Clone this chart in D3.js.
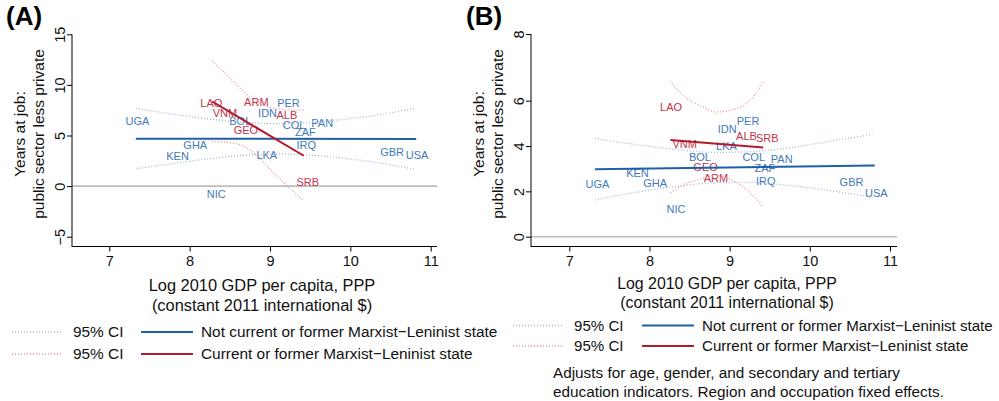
<!DOCTYPE html>
<html>
<head>
<meta charset="utf-8">
<script src="https://cdn.jsdelivr.net/npm/d3@7"></script>
<style>
  body { margin: 0; background: #fff; }
  svg { display: block; font-family: "Liberation Sans", Arial, sans-serif; }
</style>
</head>
<body>
<svg id="chart" width="999" height="401"></svg>
<script>
// countries (shared by both panels)
var codes = ['UGA', 'LAO', 'ARM', 'PER', 'VNM', 'IDN', 'ALB', 'BOL', 'COL', 'PAN',
             'GEO', 'ZAF', 'GHA', 'IRQ', 'KEN', 'LKA', 'GBR', 'USA', 'SRB', 'NIC'];
var marxist = [0, 1, 1, 0, 1, 0, 1, 0, 0, 0, 1, 0, 0, 0, 0, 0, 0, 0, 1, 0];
var gdp = [7.35, 8.27, 8.83, 9.23, 8.44, 8.97, 9.21, 8.63, 9.30, 9.65,
           8.70, 9.44, 8.07, 9.45, 7.85, 8.96, 10.52, 10.83, 9.47, 8.33];

// panel A: raw gap
var yearsA = [6.38, 8.2, 8.3, 8.2, 7.21, 7.21, 6.98, 6.38, 5.99, 6.23,
              5.56, 5.33, 4.01, 4.01, 2.93, 3.09, 3.36, 3.09, 0.40, -0.76];
var fitBlueA = [[7.33, 4.68], [10.82, 4.66]];
var fitRedA = [[8.28, 8.36], [9.42, 3.0]];
var ciBlueXA = [7.33, 7.8, 8.3, 8.8, 9.1, 9.5, 10.0, 10.4, 10.81];
var ciBlueHiA = [7.67, 7.1, 6.58, 6.23, 6.17, 6.28, 6.67, 7.1, 7.71];
var ciBlueLoA = [1.72, 2.24, 2.76, 3.11, 3.17, 3.06, 2.67, 2.24, 1.64];
var ciRedXA = [8.28, 8.5, 8.67, 8.84, 9.0, 9.17, 9.3, 9.42];
var ciRedHiA = [12.4, 10.67, 9.35, 8.36, 7.77, 7.56, 7.53, 7.54];
var ciRedLoA = [4.41, 4.3, 3.95, 3.0, 1.7, 0.35, -0.6, -1.5];

// panel B: adjusted gap
var yearsB = [2.33, 5.71, 2.58, 5.11, 4.09, 4.75, 4.45, 3.53, 3.53, 3.43,
              3.09, 3.05, 2.38, 2.46, 2.80, 4.0, 2.40, 1.94, 4.37, 1.21];
var fitBlueB = [[7.32, 2.98], [10.81, 3.14]];
var fitRedB = [[8.26, 4.27], [9.42, 3.93]];
var ciBlueXB = [7.32, 7.8, 8.3, 8.8, 9.2, 9.7, 10.2, 10.78];
var ciBlueHiB = [4.34, 4.08, 3.86, 3.72, 3.74, 3.9, 4.18, 4.52];
var ciBlueLoB = [1.62, 1.94, 2.2, 2.38, 2.4, 2.28, 2.06, 1.74];
var ciRedXB = [8.26, 8.45, 8.65, 8.84, 9.05, 9.25, 9.42];
var ciRedHiB = [6.58, 6.1, 5.76, 5.5, 5.62, 6.0, 6.55];
var ciRedLoB = [1.94, 2.32, 2.56, 2.72, 2.46, 1.96, 1.32];

var ticksX = [7, 8, 9, 10, 11];
var ticksYA = [-5, 0, 5, 10, 15];
var ticksYB = [0, 2, 4, 6, 8];

var legendLabels = ['Not current or former Marxist\u2212Leninist state', 'Current or former Marxist\u2212Leninist state'];
var noteLines = ['Adjusts for age, gender, and secondary and tertiary',
                 'education indicators. Region and occupation fixed effects.'];

var blueLine = '#1f5fa8', blueText = '#3f79bb', blueCI = '#9db9d8';
var redLine = '#b21a2e', redText = '#c43349', redCI = '#e8939e';

var svg = d3.select('#chart');

function drawPanel(p) {
    var g = svg.append('g');
    var x = p.x, y = p.y;

    // zero line
    g.append('line')
        .attr('x1', p.left).attr('x2', p.right)
        .attr('y1', y(0)).attr('y2', y(0))
        .attr('stroke', '#bcbcbc').attr('stroke-width', 1.6);

    // axes
    var xAxis = g.append('g')
        .attr('transform', 'translate(0,' + p.bottom + ')')
        .call(d3.axisBottom(x).tickValues(ticksX).tickFormat(d3.format('d'))
            .tickSize(5).tickPadding(4).tickSizeOuter(0));
    xAxis.select('.domain').remove();
    xAxis.append('line')
        .attr('x1', p.left).attr('x2', p.right).attr('stroke', '#000');
    xAxis.selectAll('text').attr('font-size', 14.5).attr('fill', '#111');

    var yAxis = g.append('g')
        .attr('transform', 'translate(' + p.left + ',0)')
        .call(d3.axisLeft(y).tickValues(p.ticksY).tickFormat(d3.format('d'))
            .tickSize(5).tickSizeOuter(0));
    yAxis.select('.domain').remove();
    yAxis.append('line')
        .attr('y1', y(p.ticksY[p.ticksY.length - 1])).attr('y2', p.bottom + 0.5).attr('stroke', '#000');
    yAxis.selectAll('text')
        .attr('x', null).attr('dy', null)
        .attr('transform', 'translate(-7,0) rotate(-90)')
        .attr('text-anchor', 'middle')
        .attr('font-size', 14.5).attr('fill', '#111');
    g.selectAll('.tick line').attr('stroke', '#000');

    // country labels
    g.selectAll('text.country')
        .data(codes)
        .enter()
        .append('text')
        .attr('class', 'country')
        .attr('x', function (d, i) { return x(gdp[i]); })
        .attr('y', function (d, i) { return y(p.years[i]); })
        .attr('dy', '0.36em')
        .attr('text-anchor', 'middle')
        .attr('font-size', 11)
        .attr('fill', function (d, i) { return marxist[i] ? redText : blueText; })
        .text(function (d) { return d; });

    // confidence bands
    var ci = d3.line()
        .x(function (d) { return x(d[0]); })
        .y(function (d) { return y(d[1]); })
        .curve(d3.curveMonotoneX);
    var bands = [
        [p.ciBlueX, p.ciBlueHi, blueCI], [p.ciBlueX, p.ciBlueLo, blueCI],
        [p.ciRedX, p.ciRedHi, redCI], [p.ciRedX, p.ciRedLo, redCI]
    ];
    bands.forEach(function (b) {
        g.append('path')
            .datum(d3.zip(b[0], b[1]))
            .attr('d', ci)
            .attr('fill', 'none')
            .attr('stroke', b[2])
            .attr('stroke-width', 1.3)
            .attr('stroke-dasharray', '1,2');
    });

    // fitted lines
    var fit = d3.line()
        .x(function (d) { return x(d[0]); })
        .y(function (d) { return y(d[1]); });
    g.append('path').datum(p.fitBlue).attr('d', fit)
        .attr('fill', 'none').attr('stroke', blueLine).attr('stroke-width', 2);
    g.append('path').datum(p.fitRed).attr('d', fit)
        .attr('fill', 'none').attr('stroke', redLine).attr('stroke-width', 2);

    // panel letter
    g.append('text')
        .attr('x', p.letterX).attr('y', 25)
        .attr('font-size', 26).attr('font-weight', 'bold')
        .text(p.letter);

    // y title
    var yt = g.append('text')
        .attr('transform', 'translate(' + p.yTitleX + ',134) rotate(-90)')
        .attr('text-anchor', 'middle')
        .attr('font-size', 15.5).attr('fill', '#111');
    yt.append('tspan').attr('x', 0).attr('dy', 0).text('Years at job:');
    yt.append('tspan').attr('x', 0).attr('dy', 19).text('public sector less private');

    // x title
    g.append('text')
        .attr('x', p.xTitleX).attr('y', p.xTitleY)
        .attr('text-anchor', 'middle')
        .attr('font-size', p.fsTitle).attr('fill', '#111')
        .text('Log 2010 GDP per capita, PPP');
    g.append('text')
        .attr('x', p.xTitleX).attr('y', p.xTitleY + p.xTitleGap)
        .attr('text-anchor', 'middle')
        .attr('font-size', p.fsTitle).attr('fill', '#111')
        .text('(constant 2011 international $)');

    // legend
    var lg = g.append('g').attr('font-size', p.fs).attr('fill', '#111');
    [0, 1].forEach(function (k) {
        var ly = p.legendY[k];
        lg.append('line')
            .attr('x1', p.legendX).attr('x2', p.legendX + 51)
            .attr('y1', ly).attr('y2', ly)
            .attr('stroke', k ? redCI : blueCI).attr('stroke-width', 1.3)
            .attr('stroke-dasharray', '1,2');
        lg.append('text')
            .attr('x', p.legendX + 61).attr('y', ly).attr('dy', '0.35em')
            .text('95% CI');
        lg.append('line')
            .attr('x1', p.legendX + 129).attr('x2', p.legendX + 181)
            .attr('y1', ly).attr('y2', ly)
            .attr('stroke', k ? redLine : blueLine).attr('stroke-width', 2);
        lg.append('text')
            .attr('x', p.legendX + 189).attr('y', ly).attr('dy', '0.35em')
            .text(legendLabels[k]);
    });

    if (p.note) {
        p.note.forEach(function (t, i) {
            g.append('text')
                .attr('x', p.legendX + 40).attr('y', 373 + i * 19).attr('dy', '0.35em')
                .attr('font-size', 15.3).attr('fill', '#111')
                .text(t);
        });
    }
}

drawPanel({
    letter: '(A)', letterX: 6,
    x: d3.scaleLinear().domain([7, 11]).range([109.3, 430.7]),
    y: d3.scaleLinear().domain([-5, 15]).range([236.7, 34.3]),
    left: 72, right: 437, bottom: 246.5,
    ticksY: ticksYA, years: yearsA,
    fitBlue: fitBlueA, fitRed: fitRedA,
    ciBlueX: ciBlueXA, ciBlueHi: ciBlueHiA, ciBlueLo: ciBlueLoA,
    ciRedX: ciRedXA, ciRedHi: ciRedHiA, ciRedLo: ciRedLoA,
    yTitleX: 24.5,
    xTitleX: 262, xTitleY: 291, xTitleGap: 20, fsTitle: 16.4,
    fs: 15.4, legendX: 12, legendY: [332, 354]
});

drawPanel({
    letter: '(B)', letterX: 466,
    x: d3.scaleLinear().domain([7, 11]).range([569.3, 890]),
    y: d3.scaleLinear().domain([0, 6, 8]).range([236.7, 100.7, 34]),
    left: 531, right: 897, bottom: 246.5,
    ticksY: ticksYB, years: yearsB,
    fitBlue: fitBlueB, fitRed: fitRedB,
    ciBlueX: ciBlueXB, ciBlueHi: ciBlueHiB, ciBlueLo: ciBlueLoB,
    ciRedX: ciRedXB, ciRedHi: ciRedHiB, ciRedLo: ciRedLoB,
    yTitleX: 483.5,
    xTitleX: 727, xTitleY: 288.5, xTitleGap: 19, fsTitle: 15.9,
    fs: 15.1, legendX: 513, legendY: [325.5, 346],
    note: noteLines
});
</script>
</body>
</html>
